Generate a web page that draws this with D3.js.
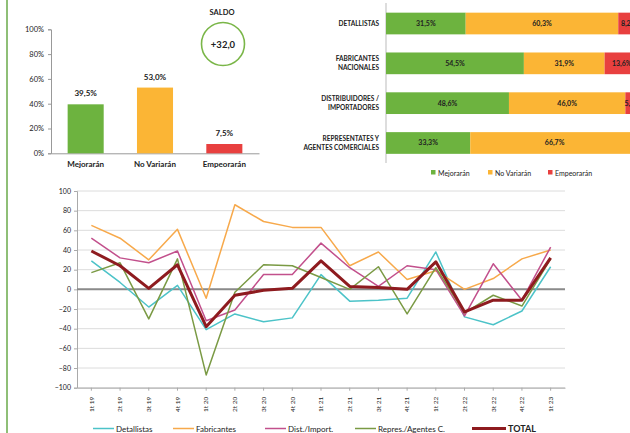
<!DOCTYPE html>
<html lang="es">
<head>
    <meta charset="UTF-8">
    <title>Expectativas</title>
    <script src="https://d3js.org/d3.v7.min.js"></script>
    <style>
        body{ margin:0; background:#fff; }
        text{ font-family: Lato, "Liberation Sans", sans-serif; fill:#222; }
        .grid line{ stroke:#dcdcdc; }
        .bold{ font-weight:700; }
    </style>
</head>
<body>
<svg id="main" width="630" height="433" viewBox="0 0 630 433"></svg>
<script>
    // --- datos ---
    let opciones = ['Mejorarán', 'No Variarán', 'Empeorarán'];
    let totalPct = [39.5, 53.0, 7.5];
    let saldo = '+32,0';
    let colores = ['#6db33f', '#fbb535', '#e8403f'];

    let sectores = [['DETALLISTAS'], ['FABRICANTES', 'NACIONALES'], ['DISTRIBUIDORES /', 'IMPORTADORES'], ['REPRESENTATES Y', 'AGENTES COMERCIALES']];
    let mejoraran = [31.5, 54.5, 48.6, 33.3];
    let noVariaran = [60.3, 31.9, 46.0, 66.7];
    let empeoraran = [8.2, 13.6, 5.4, 0];

    let trimestres = ['1t 19','2t 19','3t 19','4t 19','1t 20','2t 20','3t 20','4t 20','1t 21','2t 21','3t 21','4t 21','1t 22','2t 22','3t 22','4t 22','1t 23'];
    let detallistas = [29, 7, -18, 4, -41, -25, -33, -29, 15, -12, -11, -9, 38, -28, -36, -22, 23];
    let fabricantes = [65, 52, 30, 61, -9, 86, 69, 63, 63, 24, 38, 10, 19, 0, 11, 31, 40];
    let distImport = [52, 32, 27, 39, -32, -21, 15, 15, 47, 22, 3, 24, 20, -27, 26, -11, 43];
    let repres = [17, 27, -30, 31, -87, -3, 25, 24, 12, 0, 23, -25, 22, -24, -6, -17, 31];
    let total = [39, 24, 1, 25, -38, -6, -1, 1, 29, 3, 2, 0, 28, -23, -11, -11, 32];
    let yTicks = [-100, -80, -60, -40, -20, 0, 20, 40, 60, 80, 100];

    let fmt = v => d3.format('.1f')(v).replace('.', ',');
    let svg = d3.select('svg#main');

    // borde verde izquierdo
    svg.append('line').attr('x1', 7).attr('x2', 7).attr('y1', 0).attr('y2', 433)
        .attr('stroke', '#6aaa4a').attr('stroke-width', 1.5);

    // --- barras totales ---
    let bx = d3.scaleBand().domain(opciones).range([51, 259]).paddingInner(0.48).paddingOuter(0.24);
    let by = d3.scaleLinear().domain([0, 100]).range([153.3, 29.3]);

    let gy = svg.append('g').attr('transform', 'translate(51,0)')
        .call(d3.axisLeft(by).tickValues([0,20,40,60,80,100]).tickFormat(d => d + '%').tickSize(3).tickPadding(4));
    gy.select('.domain').attr('stroke', '#999');
    gy.selectAll('.tick line').attr('stroke', '#999');
    gy.selectAll('text').style('font-size', '7.5px').attr('fill', '#333');

    let gx = svg.append('g').attr('transform', 'translate(0,153.3)')
        .call(d3.axisBottom(bx).tickSize(0).tickPadding(8));
    gx.select('.domain').attr('stroke', '#999');
    gx.selectAll('text').style('font-size', '8px').attr('class', 'bold').attr('fill', '#222');

    svg.selectAll('rect.tot').data(totalPct).enter().append('rect')
        .attr('class', 'tot')
        .attr('x', (d, i) => bx(opciones[i]))
        .attr('y', d => by(d))
        .attr('width', bx.bandwidth())
        .attr('height', d => by(0) - by(d))
        .attr('fill', (d, i) => colores[i]);
    svg.selectAll('text.totl').data(totalPct).enter().append('text')
        .attr('class', 'totl bold')
        .attr('x', (d, i) => bx(opciones[i]) + bx.bandwidth() / 2)
        .attr('y', d => by(d) - 8)
        .attr('text-anchor', 'middle')
        .style('font-size', '8px')
        .text(d => fmt(d) + '%');

    // saldo
    svg.append('text').attr('class', 'bold').attr('x', 222).attr('y', 15).attr('text-anchor', 'middle')
        .style('font-size', '7.5px').text('SALDO');
    svg.append('circle').attr('cx', 223).attr('cy', 44).attr('r', 21.5)
        .attr('fill', 'none').attr('stroke', '#7ab648').attr('stroke-width', 1.6);
    svg.append('text').attr('class', 'bold').attr('x', 223).attr('y', 47.5).attr('text-anchor', 'middle')
        .style('font-size', '9.5px').text(saldo);

    // --- barras apiladas por sector ---
    let filas = sectores.map((s, i) => ({s: s.join(' '), m: mejoraran[i], n: noVariaran[i], e: empeoraran[i]}));
    let stack = d3.stack().keys(['m', 'n', 'e'])(filas);
    let hx = d3.scaleLinear().domain([0, 100]).range([386, 639]);
    let hy = d3.scaleBand().domain(filas.map(d => d.s)).range([3.5, 163]).paddingInner(0.455).paddingOuter(0.23);

    svg.append('line').attr('x1', 386).attr('x2', 386).attr('y1', 3).attr('y2', 163).attr('stroke', '#bbb');

    stack.forEach((serie, k) => {
        let g = svg.append('g');
        g.selectAll('rect').data(serie).enter().append('rect')
            .attr('x', d => hx(d[0]))
            .attr('y', d => hy(d.data.s))
            .attr('width', d => hx(d[1]) - hx(d[0]))
            .attr('height', hy.bandwidth())
            .attr('fill', colores[k]);
        g.selectAll('text').data(serie.filter(d => d[1] - d[0] > 0)).enter().append('text')
            .attr('class', 'bold')
            .attr('x', d => (hx(d[0]) + hx(d[1])) / 2)
            .attr('y', d => hy(d.data.s) + hy.bandwidth() / 2 + 2.5)
            .attr('text-anchor', 'middle')
            .style('font-size', '7px')
            .attr('fill', k == 2 ? '#fff' : '#222')
            .text(d => fmt(d[1] - d[0]) + '%');
    });

    sectores.forEach((s, i) => {
        let cy = hy(filas[i].s) + hy.bandwidth() / 2;
        let t = svg.append('text').attr('class', 'bold').attr('text-anchor', 'end').style('font-size', '6.5px');
        s.forEach((l, j) => {
            t.append('tspan').attr('x', 379).attr('y', cy + 2.3 + (j - (s.length - 1) / 2) * 9.5).text(l);
        });
    });

    let lg = svg.append('g');
    let lx = [431, 488, 548];
    opciones.forEach((o, i) => {
        lg.append('rect').attr('x', lx[i]).attr('y', 170).attr('width', 4.5).attr('height', 4.5).attr('fill', colores[i]);
        lg.append('text').attr('x', lx[i] + 7).attr('y', 175.5).style('font-size', '7px').attr('fill', '#444').text(o);
    });

    // --- lineas ---
    let series = [
        {n: 'Detallistas', v: detallistas, c: '#4cc3c8', w: 1.5},
        {n: 'Fabricantes', v: fabricantes, c: '#f7a94b', w: 1.5},
        {n: 'Dist./Import.', v: distImport, c: '#c2508c', w: 1.5},
        {n: 'Repres./Agentes C.', v: repres, c: '#7a9a44', w: 1.5},
        {n: 'TOTAL', v: total, c: '#8e1b1f', w: 3}
    ];
    let x = d3.scaleBand().domain(trimestres).range([77, 565]);
    let y = d3.scaleLinear().domain([-100, 100]).range([387.7, 191]);
    let cx = d => x(d) + x.bandwidth() / 2;

    let grid = svg.append('g').attr('class', 'grid');
    grid.selectAll('line').data(yTicks).enter().append('line')
        .attr('x1', 77).attr('x2', 565).attr('y1', d => y(d)).attr('y2', d => y(d));

    let ay = svg.append('g').attr('transform', 'translate(77,0)')
        .call(d3.axisLeft(y).tickValues(yTicks).tickSize(3).tickPadding(3));
    ay.select('.domain').attr('stroke', '#aaa');
    ay.selectAll('.tick line').attr('stroke', '#aaa');
    ay.selectAll('text').style('font-size', '7px').attr('fill', '#333');

    let ax = svg.append('g').attr('transform', 'translate(0,387.7)')
        .call(d3.axisBottom(x).tickSize(3).tickSizeOuter(0));
    ax.select('.domain').attr('stroke', '#aaa');
    ax.selectAll('.tick line').attr('stroke', '#aaa');
    ax.selectAll('text').style('font-size', '6.5px').attr('fill', '#333')
        .attr('transform', 'rotate(-90)').attr('text-anchor', 'end')
        .attr('x', -9).attr('y', 0).attr('dy', '0.35em');

    svg.append('line').attr('x1', 77).attr('x2', 565).attr('y1', y(0)).attr('y2', y(0))
        .attr('stroke', '#8a8a8a').attr('stroke-width', 2);

    let line = d3.line().x((d, i) => cx(trimestres[i])).y(d => y(d));
    svg.selectAll('path.serie').data(series).enter().append('path')
        .attr('class', 'serie')
        .attr('d', d => line(d.v))
        .attr('fill', 'none')
        .attr('stroke', d => d.c)
        .attr('stroke-width', d => d.w)
        .attr('stroke-linejoin', 'round');

    let lpos = [93, 173, 265, 355, 472];
    series.forEach((s, i) => {
        let len = s.n == 'TOTAL' ? 34 : 21;
        svg.append('line').attr('x1', lpos[i]).attr('x2', lpos[i] + len).attr('y1', 428.5).attr('y2', 428.5)
            .attr('stroke', s.c).attr('stroke-width', s.w);
        svg.append('text').attr('x', lpos[i] + len + 2).attr('y', 431.5)
            .attr('class', s.n == 'TOTAL' ? 'bold' : null)
            .style('font-size', s.n == 'TOTAL' ? '9px' : '8px').text(s.n);
    });
</script>
</body>
</html>
